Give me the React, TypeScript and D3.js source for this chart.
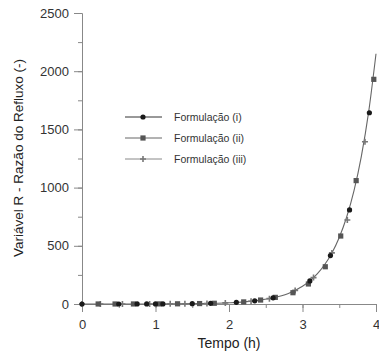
import { useEffect, useRef } from "react";
import * as d3 from "d3";

// curva contínua (ajuste)
const curveT = [0, 0.4, 0.8, 1.2, 1.6, 2.0, 2.2, 2.4, 2.6, 2.8, 3.0, 3.1, 3.2, 3.3, 3.4, 3.5, 3.6, 3.7, 3.8, 3.9, 4.0];
const curveR = [0.05, 0.15, 0.45, 1.3, 3.7, 10.7, 18, 31, 53, 89, 152, 198, 258, 337, 439, 572, 745, 971, 1266, 1650, 2150];

// Formulação (i) - círculos
const t1 = [0, 0.5, 0.75, 0.88, 1.0, 1.1, 1.5, 1.75, 2.1, 2.35, 2.6, 3.1, 3.38, 3.64, 3.91];
const r1 = [0.05, 0.2, 0.39, 0.55, 0.76, 0.99, 2.9, 5.5, 14, 27, 53, 198, 416, 808, 1643];

// Formulação (ii) - quadrados
const t2 = [0.22, 0.45, 0.7, 1.05, 1.3, 1.6, 1.8, 2.2, 2.43, 2.63, 2.87, 3.08, 3.31, 3.52, 3.73, 3.97];
const r2 = [0.1, 0.18, 0.34, 0.87, 1.7, 3.7, 6.3, 18, 34, 57, 97, 172, 320, 584, 1060, 1930];

// Formulação (iii) - cruzes
const t3 = [0, 0.25, 0.55, 0.92, 1.2, 1.4, 1.7, 1.95, 2.3, 2.55, 2.9, 3.15, 3.4, 3.61, 3.85];
const r3 = [0.05, 0.1, 0.23, 0.61, 1.3, 2.2, 4.9, 9.4, 24, 46, 117, 227, 439, 722, 1394];

const xTicks = [0, 1, 2, 3, 4];
const yTicks = [0, 500, 1000, 1500, 2000, 2500];
const legendLabels = ["Formulação (i)", "Formulação (ii)", "Formulação (iii)"];

const W = 379;
const H = 356;
const FONT = "Arial, 'Liberation Sans', sans-serif";

function App() {
  const svgRef = useRef<SVGSVGElement>(null);

  useEffect(() => {
    const svg = d3.select(svgRef.current);
    svg.selectAll("*").remove();

    const x = d3.scaleLinear().domain([0, 4]).range([82, 376]);
    const y = d3.scaleLinear().domain([0, 2500]).range([304, 13]);
    const axisColor = "#888";

    // eixo x
    const gx = svg.append("g").attr("transform", `translate(0,${y(0)})`);
    gx.call(d3.axisBottom(x).tickValues(d3.range(0, 4.01, 0.5)).tickSize(4).tickFormat(() => ""));
    gx.call((g) => g.selectAll(".tick line").attr("stroke", axisColor));
    const gx2 = svg.append("g").attr("transform", `translate(0,${y(0)})`);
    gx2.call(d3.axisBottom(x).tickValues(xTicks).tickSize(8).tickPadding(8).tickFormat(d3.format("d")));
    gx2.selectAll(".domain").attr("stroke", axisColor);
    gx2.selectAll(".tick line").attr("stroke", axisColor);
    gx2.selectAll("text").attr("font-size", 13).attr("font-family", FONT).attr("fill", "#333");
    gx.select(".domain").remove();

    // eixo y
    const gy = svg.append("g").attr("transform", `translate(${x(0)},0)`);
    gy.call(d3.axisLeft(y).tickValues(d3.range(0, 2501, 250)).tickSize(4).tickFormat(() => ""));
    gy.select(".domain").remove();
    gy.selectAll(".tick line").attr("stroke", axisColor);
    const gy2 = svg.append("g").attr("transform", `translate(${x(0)},0)`);
    gy2.call(d3.axisLeft(y).tickValues(yTicks).tickSize(8).tickPadding(5).tickFormat(d3.format("d")));
    gy2.selectAll(".domain").attr("stroke", axisColor);
    gy2.selectAll(".tick line").attr("stroke", axisColor);
    gy2.selectAll("text").attr("font-size", 13).attr("font-family", FONT).attr("fill", "#333");

    // títulos
    svg.append("text")
      .attr("x", 229).attr("y", 348)
      .attr("text-anchor", "middle")
      .attr("font-size", 14).attr("font-family", FONT).attr("fill", "#222")
      .text("Tempo (h)");
    svg.append("text")
      .attr("transform", "translate(23,158) rotate(-90)")
      .attr("text-anchor", "middle")
      .attr("font-size", 13.5).attr("font-family", FONT).attr("fill", "#222")
      .text("Variável R - Razão do Refluxo (-)");

    // curva
    const line = d3.line<number>()
      .x((_, i) => x(curveT[i]))
      .y((d) => y(d))
      .curve(d3.curveMonotoneX);
    svg.append("path")
      .attr("d", line(curveR))
      .attr("fill", "none")
      .attr("stroke", "#666")
      .attr("stroke-width", 1.1);

    const drawCircle = (g: any, cx: number, cy: number) =>
      g.append("circle").attr("cx", cx).attr("cy", cy).attr("r", 2.6).attr("fill", "#1a1a1a");
    const drawSquare = (g: any, cx: number, cy: number) =>
      g.append("rect").attr("x", cx - 2.6).attr("y", cy - 2.6).attr("width", 5.2).attr("height", 5.2).attr("fill", "#555");
    const drawPlus = (g: any, cx: number, cy: number) =>
      g.append("path")
        .attr("d", `M${cx - 3},${cy}H${cx + 3}M${cx},${cy - 3}V${cy + 3}`)
        .attr("stroke", "#777").attr("stroke-width", 1.6).attr("fill", "none");

    const marks = svg.append("g");
    t3.forEach((t, i) => drawPlus(marks, x(t), y(r3[i])));
    t2.forEach((t, i) => drawSquare(marks, x(t), y(r2[i])));
    t1.forEach((t, i) => drawCircle(marks, x(t), y(r1[i])));

    // legenda
    const legY = [117, 138, 159];
    const drawers = [drawCircle, drawSquare, drawPlus];
    const legColors = ["#333", "#666", "#888"];
    legendLabels.forEach((lab, i) => {
      const g = svg.append("g");
      g.append("line")
        .attr("x1", 125).attr("x2", 162)
        .attr("y1", legY[i]).attr("y2", legY[i])
        .attr("stroke", legColors[i]).attr("stroke-width", 1);
      drawers[i](g, 143, legY[i]);
      g.append("text")
        .attr("x", 174).attr("y", legY[i] + 3.5)
        .attr("font-size", 10.5).attr("font-family", FONT).attr("fill", "#333")
        .text(lab);
    });
  }, []);

  return (
    <svg
      ref={svgRef}
      width={W}
      height={H}
      style={{ position: "absolute", left: 0, top: 0, background: "#fff" }}
    />
  );
}

export default App;
